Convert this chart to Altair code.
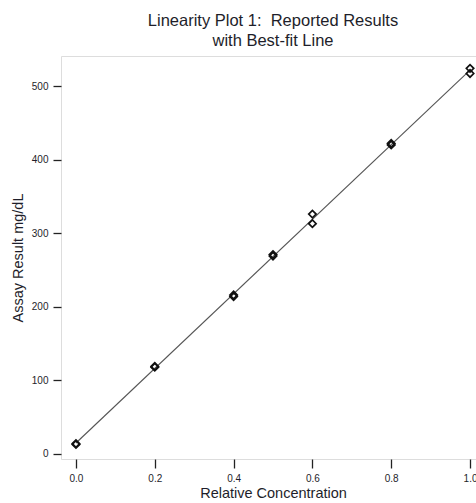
import altair as alt
import pandas as pd

conc = [0.0, 0.0, 0.2, 0.2, 0.4, 0.4, 0.5, 0.5, 0.6, 0.6, 0.8, 0.8, 1.0, 1.0]
result = [13, 14, 118, 119, 214, 216, 269, 271, 313, 326, 420, 422, 517, 524]

x_ticks = [0.0, 0.2, 0.4, 0.6, 0.8, 1.0]
y_ticks = [0, 100, 200, 300, 400, 500]

df = pd.DataFrame({"conc": conc, "result": result})

FONT = "Liberation Sans"
TXT = "#1e1e2a"

x_enc = alt.X(
    "conc:Q",
    scale=alt.Scale(domain=[-0.038, 1.038], nice=False, zero=False),
    axis=alt.Axis(
        title="Relative Concentration",
        values=x_ticks,
        format=".1f",
        grid=False,
        domain=False,
        tickSize=9,
        tickColor="#222",
        tickWidth=1.3,
        labelFontSize=10,
        labelPadding=5,
        labelColor=TXT,
        labelFont=FONT,
        labelFlush=False,
        titleFont=FONT,
        titleFontSize=14.5,
        titleFontWeight="normal",
        titleColor=TXT,
        titlePadding=3,
    ),
)
y_enc = alt.Y(
    "result:Q",
    scale=alt.Scale(domain=[-6.8, 540.8], nice=False, zero=False),
    axis=alt.Axis(
        title="Assay Result mg/dL",
        values=y_ticks,
        format="d",
        grid=False,
        domain=False,
        tickSize=8,
        tickColor="#222",
        tickWidth=1.3,
        labelFontSize=10,
        labelPadding=5,
        labelColor=TXT,
        labelFont=FONT,
        labelFlush=False,
        titleFont=FONT,
        titleFontSize=14.5,
        titleFontWeight="normal",
        titleColor=TXT,
        titlePadding=6,
    ),
)

base = alt.Chart(df)

line = base.transform_regression("conc", "result").mark_line(
    color="#555555", strokeWidth=1.1
).encode(x=x_enc, y=y_enc)

points = base.mark_point(
    shape="diamond", filled=False, color="#111111", size=55, strokeWidth=1.7, opacity=1
).encode(x=x_enc, y=y_enc)

chart = (
    alt.layer(line, points)
    .properties(
        width=424,
        height=403,
        title=alt.TitleParams(
            text=["Linearity Plot 1:\u00a0 Reported Results", "with Best-fit Line"],
            font=FONT,
            fontSize=16.5,
            fontWeight="normal",
            color=TXT,
            lineHeight=20,
            anchor="middle",
            offset=7,
        ),
        autosize=alt.AutoSizeParams(type="none"),
        padding={"left": 61, "top": 56, "right": -9, "bottom": 44},
    )
    .configure_view(stroke="#222222", strokeWidth=1.4)
    .configure(background="white")
)

chart.save("out.html", embed_options={"renderer": "svg", "actions": False})
